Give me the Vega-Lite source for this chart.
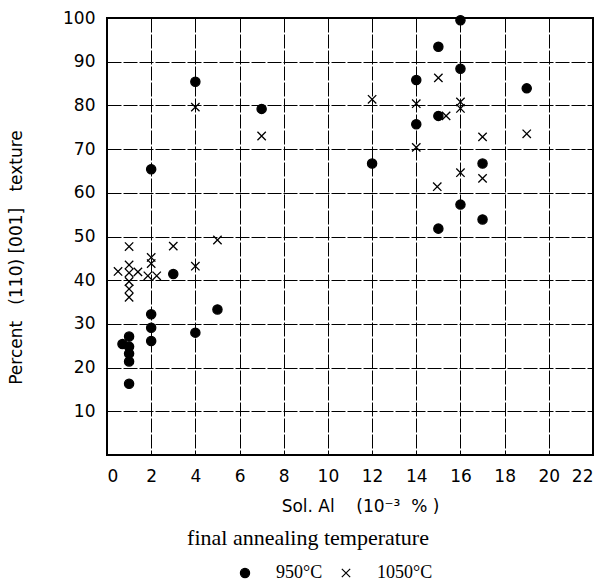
{
  "$schema": "https://vega.github.io/schema/vega-lite/v6.json",
  "autosize": {"type": "none"},
  "padding": {"left": 107, "top": 18, "right": 16, "bottom": 131},
  "width": 486,
  "height": 437,
  "background": "white",
  "config": {
    "view": {"stroke": "black", "strokeWidth": 2},
    "font": "DejaVu Sans"
  },
  "title": {
    "text": "final annealing temperature",
    "orient": "bottom", "anchor": "middle", "dx": -42, "dy": -58,
    "font": "Liberation Serif", "fontSize": 22, "fontWeight": "normal", "color": "black"
  },
  "data": {
    "values": [
      {"al": 2, "pct": 65.4, "temp": "950°C"},
      {"al": 4, "pct": 85.4, "temp": "950°C"},
      {"al": 7, "pct": 79.2, "temp": "950°C"},
      {"al": 16, "pct": 99.5, "temp": "950°C"},
      {"al": 15, "pct": 93.4, "temp": "950°C"},
      {"al": 16, "pct": 88.4, "temp": "950°C"},
      {"al": 14, "pct": 85.8, "temp": "950°C"},
      {"al": 19, "pct": 83.9, "temp": "950°C"},
      {"al": 15, "pct": 77.6, "temp": "950°C"},
      {"al": 14, "pct": 75.7, "temp": "950°C"},
      {"al": 12, "pct": 66.7, "temp": "950°C"},
      {"al": 17, "pct": 66.7, "temp": "950°C"},
      {"al": 16, "pct": 57.3, "temp": "950°C"},
      {"al": 17, "pct": 53.9, "temp": "950°C"},
      {"al": 15, "pct": 51.8, "temp": "950°C"},
      {"al": 3, "pct": 41.4, "temp": "950°C"},
      {"al": 5, "pct": 33.3, "temp": "950°C"},
      {"al": 2, "pct": 32.2, "temp": "950°C"},
      {"al": 2, "pct": 29.1, "temp": "950°C"},
      {"al": 4, "pct": 28.0, "temp": "950°C"},
      {"al": 2, "pct": 26.1, "temp": "950°C"},
      {"al": 1, "pct": 27.1, "temp": "950°C"},
      {"al": 0.7, "pct": 25.4, "temp": "950°C"},
      {"al": 1, "pct": 24.8, "temp": "950°C"},
      {"al": 1, "pct": 23.2, "temp": "950°C"},
      {"al": 1, "pct": 21.4, "temp": "950°C"},
      {"al": 1, "pct": 16.3, "temp": "950°C"},
      {"al": 4, "pct": 79.6, "temp": "1050°C"},
      {"al": 7, "pct": 73.0, "temp": "1050°C"},
      {"al": 15, "pct": 86.3, "temp": "1050°C"},
      {"al": 12, "pct": 81.4, "temp": "1050°C"},
      {"al": 14, "pct": 80.4, "temp": "1050°C"},
      {"al": 16, "pct": 80.8, "temp": "1050°C"},
      {"al": 16, "pct": 79.3, "temp": "1050°C"},
      {"al": 15.35, "pct": 77.6, "temp": "1050°C"},
      {"al": 17, "pct": 72.8, "temp": "1050°C"},
      {"al": 19, "pct": 73.5, "temp": "1050°C"},
      {"al": 14, "pct": 70.4, "temp": "1050°C"},
      {"al": 16, "pct": 64.6, "temp": "1050°C"},
      {"al": 17, "pct": 63.3, "temp": "1050°C"},
      {"al": 14.95, "pct": 61.4, "temp": "1050°C"},
      {"al": 1, "pct": 47.7, "temp": "1050°C"},
      {"al": 3, "pct": 47.8, "temp": "1050°C"},
      {"al": 5, "pct": 49.2, "temp": "1050°C"},
      {"al": 2, "pct": 45.2, "temp": "1050°C"},
      {"al": 2, "pct": 43.8, "temp": "1050°C"},
      {"al": 4, "pct": 43.2, "temp": "1050°C"},
      {"al": 1.85, "pct": 41.0, "temp": "1050°C"},
      {"al": 2.25, "pct": 41.0, "temp": "1050°C"},
      {"al": 1, "pct": 43.5, "temp": "1050°C"},
      {"al": 0.5, "pct": 42.0, "temp": "1050°C"},
      {"al": 1, "pct": 41.7, "temp": "1050°C"},
      {"al": 1.4, "pct": 41.9, "temp": "1050°C"},
      {"al": 1, "pct": 39.7, "temp": "1050°C"},
      {"al": 1, "pct": 38.0, "temp": "1050°C"},
      {"al": 1, "pct": 36.1, "temp": "1050°C"}
    ]
  },
  "mark": {"type": "point", "filled": true, "stroke": "black", "strokeWidth": 1.3, "opacity": 1},
  "encoding": {
    "x": {
      "field": "al", "type": "quantitative",
      "scale": {"domain": [0, 22], "nice": false, "zero": false},
      "axis": {
        "values": [0, 2, 4, 6, 8, 10, 12, 14, 16, 18, 20, 22],
        "title": "Sol. Al\u00a0\u00a0\u00a0\u00a0(10⁻³\u00a0\u00a0%\u00a0)",
        "titleFont": "DejaVu Sans", "titleFontWeight": "normal", "titleFontSize": 17, "titleColor": "black",
        "titlePadding": 14, "titleX": 253,
        "labelFont": "DejaVu Sans", "labelFontSize": 17, "labelColor": "black", "labelPadding": 13,
        "ticks": false, "domain": false,
        "grid": true, "gridColor": "black", "gridOpacity": 1, "gridWidth": 1, "gridDash": [14, 2]
      }
    },
    "y": {
      "field": "pct", "type": "quantitative",
      "scale": {"domain": [0, 100], "nice": false},
      "axis": {
        "values": [10, 20, 30, 40, 50, 60, 70, 80, 90, 100],
        "title": "Percent\u00a0\u00a0\u00a0(110)\u00a0[001]\u00a0\u00a0\u00a0texture",
        "titleFont": "DejaVu Sans", "titleFontWeight": "normal", "titleFontSize": 17, "titleColor": "black",
        "titleX": -82, "titleY": 239, "titleAngle": -90, "titleBaseline": "bottom", "titleAlign": "center",
        "labelFont": "DejaVu Sans", "labelFontSize": 17, "labelColor": "black", "labelPadding": 12,
        "ticks": false, "domain": false,
        "grid": true, "gridColor": "black", "gridOpacity": 1, "gridWidth": 1, "gridDash": [14, 2]
      }
    },
    "shape": {
      "field": "temp", "type": "nominal",
      "scale": {"domain": ["950°C", "1050°C"], "range": ["circle", "M-1,-1L1,1M-1,1L1,-1"]},
      "legend": {
        "title": null,
        "orient": "none", "legendX": 129, "legendY": 546,
        "direction": "horizontal",
        "labelFont": "Liberation Serif", "labelFontSize": 18, "labelColor": "black",
        "symbolStrokeColor": "black", "symbolStrokeWidth": 1.2,
        "columnPadding": 14, "labelOffset": 22
      }
    },
    "fill": {
      "field": "temp", "type": "nominal",
      "scale": {"domain": ["950°C", "1050°C"], "range": ["black", "transparent"]}
    },
    "size": {
      "field": "temp", "type": "nominal",
      "scale": {"domain": ["950°C", "1050°C"], "range": [85, 70]}
    }
  }
}
